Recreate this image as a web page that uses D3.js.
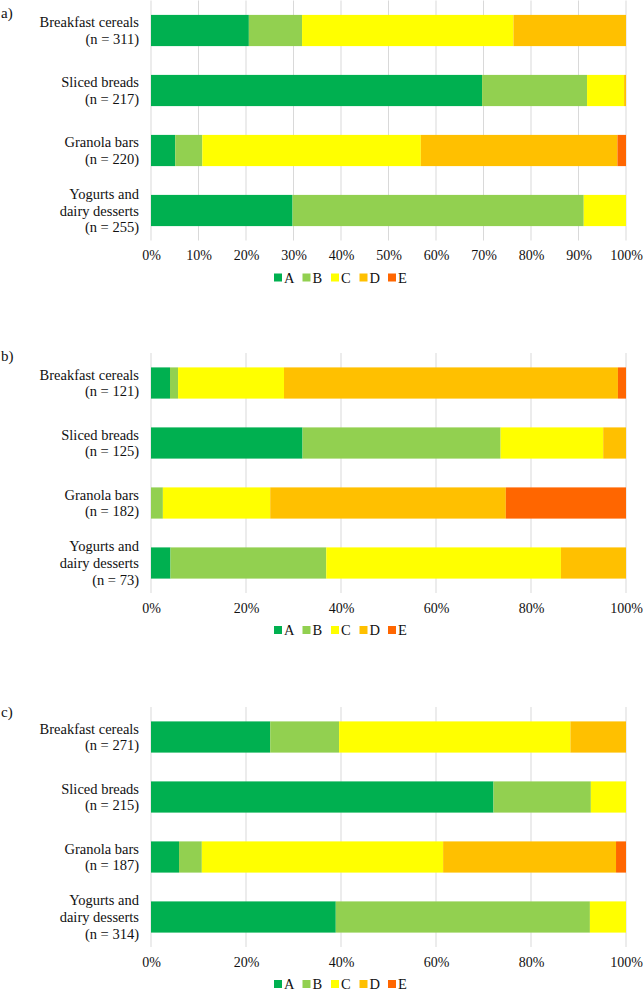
<!DOCTYPE html>
<html>
<head>
<meta charset="utf-8">
<script src="https://cdn.jsdelivr.net/npm/d3@7"></script>
<style>
  body { margin: 0; background: #fff; }
  svg text { font-family: "Liberation Serif", "Times New Roman", Tinos, "DejaVu Serif", serif !important; fill: #111; }
</style>
</head>
<body>
<div id="chart"></div>
<script>
const categories = ["Breakfast cereals", "Sliced breads", "Granola bars", "Yogurts and\ndairy desserts"];
const keys = ["A", "B", "C", "D", "E"];
const colors = ["#00B050", "#92D050", "#FFFF00", "#FFC000", "#FF6600"];
const panelLabels = ["a)", "b)", "c)"];

const countsA = [311, 217, 220, 255];
const countsB = [121, 125, 182, 73];
const countsC = [271, 215, 187, 314];

// shares in % per category, order A..E
const valuesA = [
  [20.6, 11.2, 44.5, 23.7, 0],
  [69.7, 22.1, 7.8, 0.4, 0],
  [5.1, 5.7, 46.0, 41.4, 1.8],
  [29.8, 61.3, 8.9, 0, 0]
];
const valuesB = [
  [4.0, 1.7, 22.3, 70.3, 1.7],
  [31.9, 41.7, 21.6, 4.8, 0],
  [0, 2.5, 22.6, 49.6, 25.3],
  [4.1, 32.8, 49.4, 13.7, 0]
];
const valuesC = [
  [25.1, 14.5, 48.7, 11.7, 0],
  [72.1, 20.5, 7.4, 0, 0],
  [5.9, 4.8, 50.8, 36.4, 2.1],
  [38.9, 53.5, 7.6, 0, 0]
];

const ticksA = [0, 10, 20, 30, 40, 50, 60, 70, 80, 90, 100];
const ticksBC = [0, 20, 40, 60, 80, 100];

const panels = [
  { label: panelLabels[0], counts: countsA, values: valuesA, ticks: ticksA, top: 0.5, labelY: 18 },
  { label: panelLabels[1], counts: countsB, values: valuesB, ticks: ticksBC, top: 353, labelY: 361 },
  { label: panelLabels[2], counts: countsC, values: valuesC, ticks: ticksBC, top: 707, labelY: 717 }
];

const W = 643, H = 992;
const plotH = 240;

const svg = d3.select("#chart").append("svg")
  .attr("width", W)
  .attr("height", H);

const x = d3.scaleLinear().domain([0, 100]).range([151, 626]);
const color = d3.scaleOrdinal().domain(keys).range(colors);

panels.forEach(p => {
  const g = svg.append("g").attr("transform", `translate(0,${p.top})`);

  const y = d3.scaleBand()
    .domain(categories)
    .range([0, plotH])
    .paddingInner(0.48)
    .paddingOuter(0.24);

  // gridlines
  g.selectAll(".grid")
    .data(p.ticks)
    .enter().append("line")
    .attr("class", "grid")
    .attr("x1", d => x(d)).attr("x2", d => x(d))
    .attr("y1", 0).attr("y2", plotH)
    .attr("stroke", "#d9d9d9")
    .attr("stroke-width", 1);

  // rows for stacking
  const rows = categories.map((c, i) => {
    let r = { cat: c };
    keys.forEach((k, j) => r[k] = p.values[i][j]);
    return r;
  });
  const series = d3.stack().keys(keys)(rows);

  g.selectAll(".layer")
    .data(series)
    .enter().append("g")
    .attr("fill", d => color(d.key))
    .selectAll("rect")
    .data(d => d.filter(s => s[1] - s[0] > 0))
    .enter().append("rect")
    .attr("x", d => x(d[0]))
    .attr("y", d => y(d.data.cat))
    .attr("width", d => x(d[1]) - x(d[0]))
    .attr("height", y.bandwidth());

  // category labels
  categories.forEach((c, i) => {
    const lines = c.split("\n").concat([`(n = ${p.counts[i]})`]);
    const lh = 16.8;
    const cy = y(c) + y.bandwidth() / 2;
    const t = g.append("text")
      .attr("text-anchor", "end")
      .style("font-size", "14.5px");
    lines.forEach((ln, k) => {
      t.append("tspan")
        .attr("x", 139)
        .attr("y", cy + (k - (lines.length - 1) / 2) * lh + 5)
        .text(ln);
    });
  });

  // x axis
  const axis = d3.axisBottom(x)
    .tickValues(p.ticks)
    .tickSize(0)
    .tickPadding(0)
    .tickFormat(d => d + "%");
  const ax = g.append("g")
    .attr("transform", `translate(0,${plotH + 10})`)
    .call(axis);
  ax.select(".domain").remove();
  ax.selectAll("text")
    .attr("dy", "0.71em")
    .style("font-size", "14px")
    .attr("fill", "#111");

  // legend
  const leg = g.append("g").attr("transform", `translate(0,${plotH + 37})`);
  keys.forEach((k, i) => {
    const lx = 274 + i * 28.5;
    leg.append("rect")
      .attr("x", lx).attr("y", -4)
      .attr("width", 8).attr("height", 8)
      .attr("fill", color(k));
    leg.append("text")
      .attr("x", lx + 10).attr("y", 5)
      .style("font-size", "14.5px")
      .text(k);
  });

  // panel label
  svg.append("text")
    .attr("x", 1)
    .attr("y", p.labelY)
    .style("font-size", "15px")
    .text(p.label);
});
</script>
</body>
</html>
